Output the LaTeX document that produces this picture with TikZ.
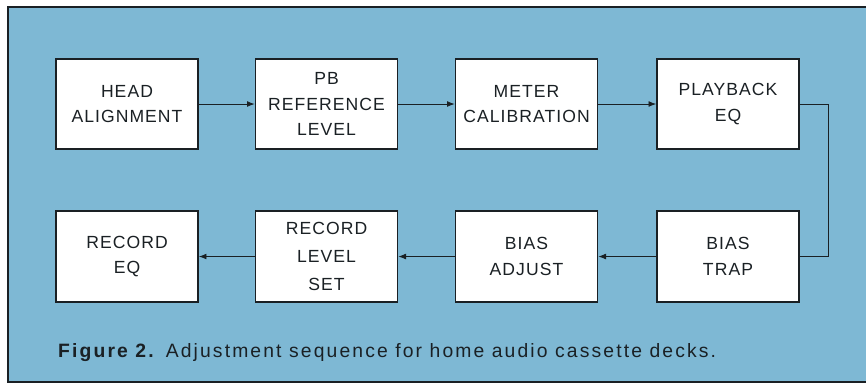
\documentclass[tikz,border=0pt]{standalone}
\usepackage{fontspec}
\setmainfont{Liberation Sans}
\newfontfamily\boxfont[LetterSpace=6]{Liberation Sans}
\newfontfamily\captfont[LetterSpace=11]{Liberation Sans}
\usepackage{xcolor}
\usetikzlibrary{arrows.meta,positioning}
\definecolor{panelblue}{RGB}{126,184,212}
\definecolor{inkdark}{RGB}{26,32,36}

\begin{document}
\begin{tikzpicture}[x=0.03cm, y=-0.03cm, >={Latex[length=6.5pt,width=5pt]},
    stepbox/.style={draw=inkdark, line width=1.5pt, fill=white, align=center,
        minimum width=4.26cm, minimum height=2.72cm, text=inkdark,
        font=\boxfont\fontsize{15}{22}\selectfont},
    link/.style={->, draw=inkdark, line width=0.7pt}]
    \useasboundingbox (0,0) rectangle (866,384);

    % Panel
    \fill[panelblue] (8,8) rectangle (866,382);
    \draw[inkdark, line width=1.5pt] (866,7) -- (8,7) -- (8,382) -- (866,382);

    % Upper row
    \node[stepbox] (head)  at (127,104)   {HEAD\\ALIGNMENT};
    \node[stepbox] (pbref) at (326.5,104) {PB\\REFERENCE\\LEVEL};
    \node[stepbox] (meter) at (526.5,104) {METER\\CALIBRATION};
    \node[stepbox] (pbeq)  at (728,104)   {PLAYBACK\\EQ};

    % Lower row
    \node[stepbox] (receq)  at (127,256.5)   {RECORD\\EQ};
    \node[stepbox, font=\boxfont\fontsize{15}{24}\selectfont] (reclev) at (326.5,256.5) {RECORD\\LEVEL\\SET};
    \node[stepbox] (biasadj) at (526.5,256.5) {BIAS\\ADJUST};
    \node[stepbox] (biastrap) at (728,256.5) {BIAS\\TRAP};

    % Sequence
    \draw[link] (head) -- (pbref);
    \draw[link] (pbref) -- (meter);
    \draw[link] (meter) -- (pbeq);
    \draw[link, -] (pbeq.east) -- ++(29,0) |- (biastrap.east);
    \draw[link] (biastrap) -- (biasadj);
    \draw[link] (biasadj) -- (reclev);
    \draw[link] (reclev) -- (receq);

    % Caption
    \node[anchor=base west, text=inkdark, font=\captfont\fontsize{16.5}{19}\selectfont, inner sep=0pt]
        (caption) at (58,357) {\textbf{Figure 2.} Adjustment sequence for home audio cassette decks.};
\end{tikzpicture}
\end{document}
